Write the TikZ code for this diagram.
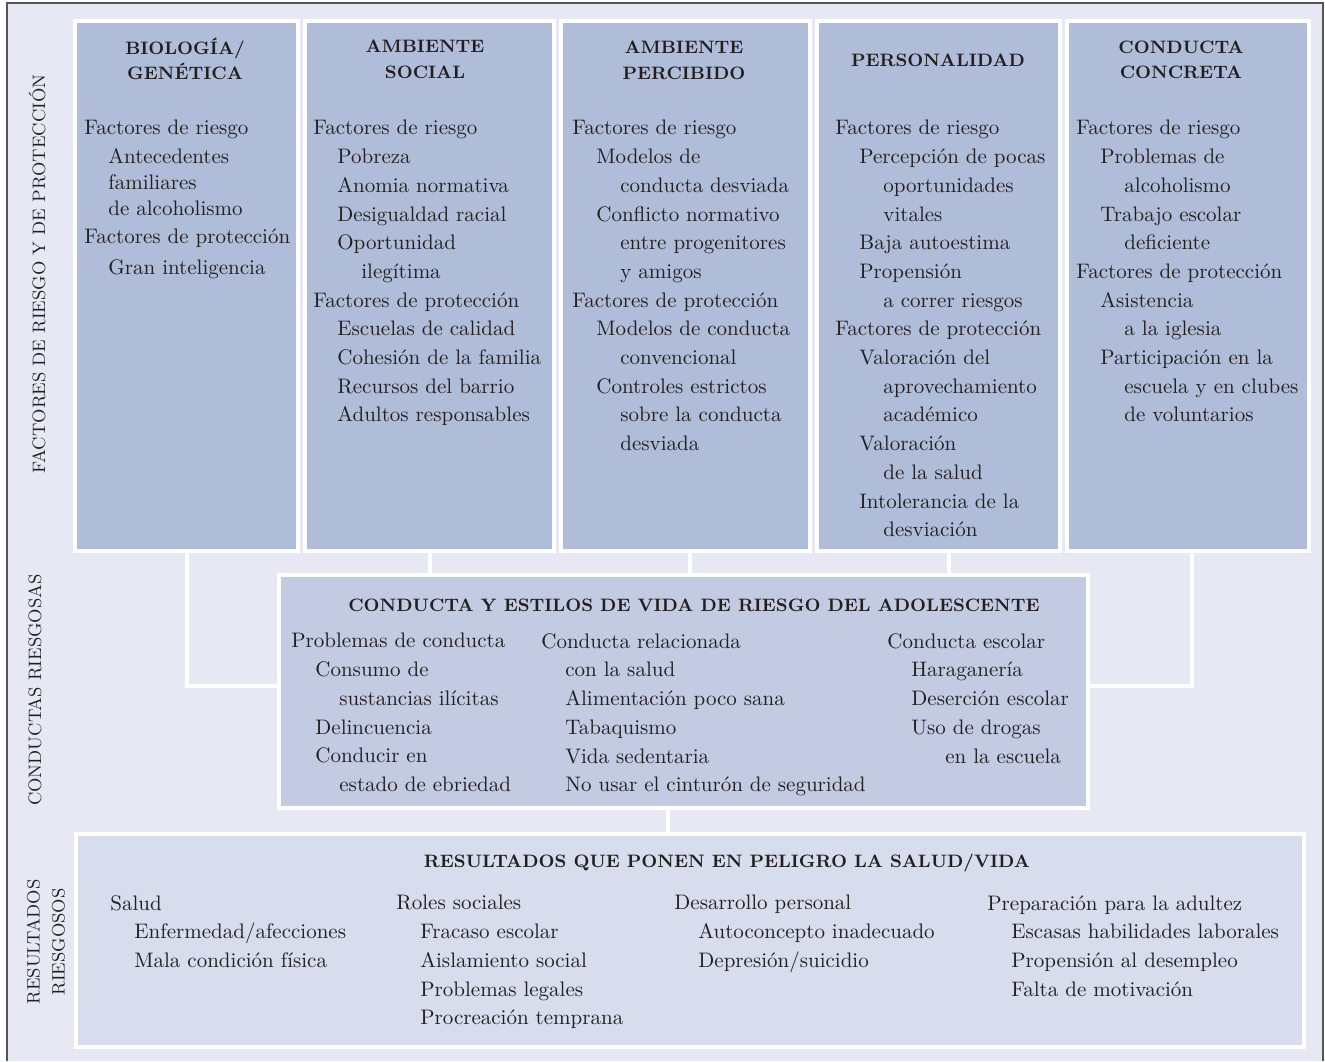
\documentclass[tikz,border=0pt]{standalone}
\usepackage{tikz}
\usetikzlibrary{positioning}

\definecolor{panelbg}{RGB}{230,233,243}
\definecolor{factfill}{RGB}{176,189,217}
\definecolor{condfill}{RGB}{195,203,227}
\definecolor{resfill}{RGB}{216,221,237}
\definecolor{framegray}{RGB}{85,85,85}
\definecolor{inktext}{RGB}{35,31,32}

\newcommand{\ina}{\hspace*{12pt}}
\newcommand{\inb}{\hspace*{24pt}}

\begin{document}
\begin{tikzpicture}[x=0.5pt, y=-0.5pt,
  every node/.style={text=inktext, inner sep=0pt},
  factbox/.style={draw=white, line width=2pt, fill=factfill, anchor=north west, minimum height=265pt},
  condbox/.style={draw=white, line width=2pt, fill=condfill, anchor=north west},
  resbox/.style={draw=white, line width=2pt, fill=resfill, anchor=north west},
  boxtitle/.style={font=\bfseries\fontsize{9}{12.75}\selectfont, align=center},
  boxbody/.style={font=\fontsize{10.5}{14.35}\selectfont, align=left, anchor=north west},
  sidelabel/.style={font=\fontsize{9}{12.5}\selectfont, rotate=90, align=center},
  link/.style={draw=white, line width=2pt}]
\useasboundingbox (0,0) rectangle (1325,1061);
\fill[panelbg] (7,3) rectangle (1323,1061);
\draw[framegray, line width=1pt] (7,1061) -- (7,3) -- (1323,3) -- (1323,1061);

% upper row
\node[factbox, minimum width=111.5pt] (bio) at (73,19) {};
\node[factbox, minimum width=124.5pt, right=1.5pt of bio] (amb) {};
\node[factbox, minimum width=124.5pt, right=1.5pt of amb] (perc) {};
\node[factbox, minimum width=121.5pt, right=1.5pt of perc] (pers) {};
\node[factbox, minimum width=121pt, right=1.5pt of pers] (concr) {};

% middle and lower boxes
\node[condbox, minimum width=404.5pt, minimum height=116.5pt] (riesgo) at (277,573) {};
\node[resbox, minimum width=614pt, minimum height=106.5pt] (result) at (74,832) {};

% connectors
\draw[link] (bio.south) |- ([yshift=3pt]riesgo.west);
\draw[link] (amb.south) -- (amb.south |- riesgo.north);
\draw[link] ([xshift=2.25pt]perc.south) -- ([xshift=2.25pt]perc.south |- riesgo.north);
\draw[link] ([xshift=5pt]pers.south) -- ([xshift=5pt]pers.south |- riesgo.north);
\draw[link] ([xshift=2pt]concr.south) |- ([yshift=3pt]riesgo.east);
\draw[link] ([xshift=-8pt]riesgo.south) -- ([xshift=-8pt]riesgo.south |- result.north);

% side labels
\node[sidelabel] (lblfact) at (37,274) {FACTORES DE RIESGO Y DE PROTECCIÓN};
\node[sidelabel] (lblcond) at (35,690) {CONDUCTAS RIESGOSAS};
\node[sidelabel] (lblres) at (46,942) {RESULTADOS\\RIESGOSOS};

% titles
\node[boxtitle] (biotit) at (185,59) {BIOLOGÍA/\\GENÉTICA};
\node[boxtitle] (ambtit) at (425,59.5) {AMBIENTE\\SOCIAL};
\node[boxtitle] (perctit) at (684,60.5) {AMBIENTE\\PERCIBIDO};
\node[boxtitle] (perstit) at (938,60) {PERSONALIDAD};
\node[boxtitle] (concrtit) at (1181,60) {CONDUCTA\\CONCRETA};
\node[boxtitle] (riesgotit) at (694,605) {CONDUCTA Y ESTILOS DE VIDA DE RIESGO DEL ADOLESCENTE};
\node[boxtitle] (resulttit) at (727,863) {RESULTADOS QUE PONEN EN PELIGRO LA SALUD/VIDA};

% upper row texts
\node[boxbody] (biotxt) at (84,120) {Factores de riesgo\\
  \ina Antecedentes\\[-1.5pt]
  \ina familiares\\[-1.5pt]
  \ina de alcoholismo\\
  Factores de protección\\[1pt]
  \ina Gran inteligencia};
\node[boxbody] (ambtxt) at (313,120) {Factores de riesgo\\
  \ina Pobreza\\
  \ina Anomia normativa\\
  \ina Desigualdad racial\\
  \ina Oportunidad\\
  \inb ilegítima\\
  Factores de protección\\
  \ina Escuelas de calidad\\
  \ina Cohesión de la familia\\
  \ina Recursos del barrio\\
  \ina Adultos responsables};
\node[boxbody] (perctxt) at (572,120) {Factores de riesgo\\
  \ina Modelos de\\
  \inb conducta desviada\\
  \ina Conflicto normativo\\
  \inb entre progenitores\\
  \inb y amigos\\
  Factores de protección\\
  \ina Modelos de conducta\\
  \inb convencional\\
  \ina Controles estrictos\\
  \inb sobre la conducta\\
  \inb desviada};
\node[boxbody] (perstxt) at (835,120) {Factores de riesgo\\
  \ina Percepción de pocas\\
  \inb oportunidades\\
  \inb vitales\\
  \ina Baja autoestima\\
  \ina Propensión\\
  \inb a correr riesgos\\
  Factores de protección\\
  \ina Valoración del\\
  \inb aprovechamiento\\
  \inb académico\\
  \ina Valoración\\
  \inb de la salud\\
  \ina Intolerancia de la\\
  \inb desviación};
\node[boxbody] (concrtxt) at (1076,120) {Factores de riesgo\\
  \ina Problemas de\\
  \inb alcoholismo\\
  \ina Trabajo escolar\\
  \inb deficiente\\
  Factores de protección\\
  \ina Asistencia\\
  \inb a la iglesia\\
  \ina Participación en la\\
  \inb escuela y en clubes\\
  \inb de voluntarios};

% middle texts
\node[boxbody] (condtxt) at (291,633) {Problemas de conducta\\
  \ina Consumo de\\
  \inb sustancias ilícitas\\
  \ina Delincuencia\\
  \ina Conducir en\\
  \inb estado de ebriedad};
\node[boxbody] (saludtxt) at (541,633) {Conducta relacionada\\
  \ina con la salud\\
  \ina Alimentación poco sana\\
  \ina Tabaquismo\\
  \ina Vida sedentaria\\
  \ina No usar el cinturón de seguridad};
\node[boxbody] (escoltxt) at (887,633) {Conducta escolar\\
  \ina Haraganería\\
  \ina Deserción escolar\\
  \ina Uso de drogas\\
  \hspace*{29pt}en la escuela};

% lower texts
\node[boxbody] (saltxt) at (110,895) {Salud\\
  \ina Enfermedad/afecciones\\
  \ina Mala condición física};
\node[boxbody] (roltxt) at (396,895) {Roles sociales\\
  \ina Fracaso escolar\\
  \ina Aislamiento social\\
  \ina Problemas legales\\
  \ina Procreación temprana};
\node[boxbody] (destxt) at (674,895) {Desarrollo personal\\
  \ina Autoconcepto inadecuado\\
  \ina Depresión/suicidio};
\node[boxbody] (adutxt) at (987,895) {Preparación para la adultez\\
  \ina Escasas habilidades laborales\\
  \ina Propensión al desempleo\\
  \ina Falta de motivación};
\end{tikzpicture}
\end{document}
